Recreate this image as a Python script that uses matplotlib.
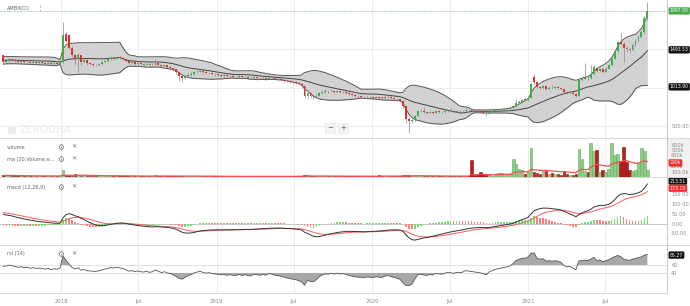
import numpy as np
import pandas as pd
import matplotlib
matplotlib.use("Agg")
import matplotlib.pyplot as plt
import matplotlib.dates as mdates
from matplotlib.patches import Rectangle
from matplotlib.lines import Line2D

# AMBIKCO weekly candles, Aug 2017 - Oct 2021
first_week = "2017-08-18"

# closes before the visible window (only used to warm up the indicators)
hist_closes = [1010, 1030, 1020, 1050, 1080, 1100, 1090, 1120, 1150, 1180,
               1170, 1210, 1240, 1260, 1300, 1290, 1320, 1350, 1340, 1370,
               1360, 1380, 1350, 1360, 1340, 1370, 1330, 1350, 1360, 1320,
               1340, 1380, 1350, 1400, 1420]

opens = [1420, 1340, 1350, 1370, 1360, 1345, 1335, 1345, 1330, 1340,
         1325, 1335, 1320, 1330, 1325, 1315, 1325, 1310, 1320, 1315,
         1330, 1700, 1690, 1520, 1430, 1380, 1420, 1340, 1360, 1320,
         1310, 1300, 1295, 1310, 1330, 1350, 1370, 1385, 1380, 1395,
         1385, 1370, 1350, 1320, 1330, 1310, 1320, 1305, 1300, 1310,
         1290, 1300, 1320, 1300, 1280, 1290, 1270, 1260, 1240, 1200,
         1150, 1130, 1150, 1170, 1180, 1200, 1210, 1220, 1200, 1190,
         1195, 1180, 1175, 1170, 1160, 1165, 1150, 1155, 1145, 1140,
         1150, 1135, 1140, 1130, 1125, 1135, 1130, 1125, 1130, 1120,
         1130, 1125, 1115, 1110, 1105, 1095, 1085, 1080, 1070, 1065,
         1050, 1030, 900, 940, 890, 880, 900, 930, 950, 960,
         955, 965, 950, 960, 945, 950, 935, 920, 905, 895,
         890, 885, 880, 885, 880, 875, 880, 875, 870, 878,
         880, 870, 860, 850, 835, 760, 600, 570, 585, 640,
         700, 705, 690, 680, 690, 680, 700, 690, 685, 695,
         705, 700, 690, 700, 695, 700, 715, 710, 705, 700,
         695, 690, 680, 670, 690, 700, 710, 715, 720, 725,
         730, 740, 760, 800, 820, 860, 840, 870, 1140, 1070,
         1010, 1000, 1020, 990, 1000, 995, 1005, 1000, 990, 950,
         935, 940, 920, 895, 1100, 1120, 1130, 1125, 1180, 1260,
         1220, 1240, 1210, 1250, 1290, 1380, 1480, 1590, 1570, 1520,
         1500, 1490, 1560, 1610, 1660, 1720, 1900]

highs = [1430, 1365, 1385, 1380, 1370, 1355, 1360, 1355, 1355, 1350,
         1350, 1345, 1345, 1340, 1335, 1345, 1335, 1335, 1330, 1345,
         1850, 1730, 1700, 1540, 1440, 1450, 1430, 1390, 1370, 1335,
         1325, 1315, 1325, 1345, 1365, 1390, 1410, 1400, 1415, 1410,
         1395, 1380, 1360, 1350, 1340, 1340, 1330, 1320, 1330, 1320,
         1320, 1380, 1330, 1310, 1310, 1300, 1285, 1270, 1250, 1210,
         1165, 1170, 1190, 1200, 1220, 1260, 1240, 1230, 1215, 1210,
         1205, 1195, 1190, 1180, 1180, 1175, 1170, 1165, 1160, 1165,
         1160, 1155, 1150, 1145, 1150, 1145, 1145, 1150, 1140, 1145,
         1140, 1135, 1130, 1125, 1115, 1105, 1100, 1090, 1085, 1075,
         1060, 1040, 955, 950, 905, 915, 945, 965, 990, 975,
         985, 975, 975, 970, 965, 960, 945, 930, 915, 905,
         900, 895, 900, 895, 890, 895, 890, 885, 890, 910,
         890, 880, 870, 860, 840, 770, 620, 600, 655, 720,
         725, 750, 700, 705, 700, 715, 710, 700, 710, 720,
         740, 710, 715, 710, 715, 760, 730, 725, 720, 715,
         710, 700, 690, 705, 715, 725, 730, 740, 745, 750,
         760, 780, 850, 840, 860, 870, 890, 1060, 1180, 1080,
         1025, 1040, 1030, 1020, 1040, 1025, 1020, 1010, 1000, 960,
         955, 950, 930, 1110, 1150, 1320, 1160, 1300, 1290, 1275,
         1260, 1250, 1265, 1310, 1400, 1500, 1610, 1720, 1590, 1540,
         1520, 1580, 1630, 1690, 1750, 1930, 2110]

lows = [1310, 1330, 1340, 1345, 1335, 1320, 1325, 1320, 1320, 1315,
        1315, 1305, 1310, 1310, 1300, 1305, 1295, 1300, 1300, 1305,
        1320, 1590, 1500, 1400, 1300, 1210, 1300, 1320, 1300, 1290,
        1285, 1280, 1285, 1300, 1320, 1340, 1360, 1365, 1370, 1370,
        1355, 1335, 1305, 1310, 1295, 1300, 1290, 1285, 1290, 1275,
        1280, 1290, 1285, 1265, 1270, 1255, 1245, 1225, 1185, 1090,
        1070, 1115, 1140, 1160, 1170, 1190, 1200, 1185, 1175, 1175,
        1165, 1160, 1155, 1145, 1145, 1135, 1140, 1130, 1125, 1130,
        1120, 1125, 1115, 1110, 1115, 1115, 1110, 1110, 1105, 1110,
        1110, 1100, 1095, 1090, 1080, 1070, 1065, 1055, 1050, 1035,
        1015, 870, 860, 875, 860, 865, 890, 920, 940, 940,
        945, 935, 940, 930, 935, 920, 905, 890, 880, 875,
        870, 865, 870, 865, 860, 865, 860, 855, 860, 865,
        855, 845, 835, 815, 740, 540, 415, 550, 575, 630,
        690, 675, 665, 670, 665, 670, 675, 670, 675, 685,
        685, 675, 680, 680, 685, 690, 695, 690, 685, 680,
        675, 665, 640, 660, 680, 690, 700, 705, 710, 715,
        720, 730, 750, 790, 810, 825, 830, 865, 1040, 995,
        985, 990, 975, 980, 980, 985, 985, 975, 935, 920,
        920, 905, 880, 880, 1090, 1110, 1105, 1115, 1170, 1200,
        1205, 1195, 1200, 1240, 1280, 1370, 1470, 1550, 1340, 1470,
        1460, 1475, 1540, 1590, 1640, 1700, 1880]

closes = [1340, 1350, 1370, 1360, 1345, 1335, 1345, 1330, 1340, 1325,
          1335, 1320, 1330, 1325, 1315, 1325, 1310, 1320, 1315, 1330,
          1680, 1610, 1520, 1430, 1380, 1420, 1340, 1360, 1320, 1310,
          1300, 1295, 1310, 1330, 1350, 1370, 1385, 1380, 1395, 1385,
          1370, 1350, 1320, 1330, 1310, 1320, 1305, 1300, 1310, 1290,
          1300, 1320, 1300, 1280, 1290, 1270, 1260, 1240, 1200, 1150,
          1130, 1150, 1170, 1180, 1200, 1210, 1220, 1200, 1190, 1195,
          1180, 1175, 1170, 1160, 1165, 1150, 1155, 1145, 1140, 1150,
          1135, 1140, 1130, 1125, 1135, 1130, 1125, 1130, 1120, 1130,
          1125, 1115, 1110, 1105, 1095, 1085, 1080, 1070, 1065, 1050,
          1030, 900, 940, 890, 880, 900, 930, 950, 960, 955,
          965, 950, 960, 945, 950, 935, 920, 905, 895, 890,
          885, 880, 885, 880, 875, 880, 875, 870, 878, 880,
          870, 860, 850, 835, 760, 600, 570, 585, 640, 700,
          705, 690, 680, 690, 680, 700, 690, 685, 695, 705,
          700, 690, 700, 695, 700, 715, 710, 705, 700, 695,
          690, 680, 670, 690, 700, 710, 715, 720, 725, 730,
          740, 760, 800, 820, 840, 840, 870, 1050, 1070, 1010,
          1000, 1020, 990, 1000, 995, 1005, 1000, 990, 950, 935,
          940, 920, 895, 1100, 1120, 1130, 1125, 1180, 1270, 1220,
          1240, 1210, 1250, 1290, 1380, 1480, 1590, 1570, 1520, 1500,
          1490, 1560, 1610, 1660, 1720, 1900, 1997]

volumes_k = [30, 20, 25, 18, 15, 20, 15, 18, 12, 15,
             20, 15, 12, 18, 15, 12, 15, 20, 15, 25,
             130, 45, 35, 25, 60, 40, 25, 20, 18, 15,
             15, 12, 15, 20, 18, 20, 25, 15, 20, 18,
             15, 15, 18, 12, 15, 12, 10, 12, 15, 12,
             15, 30, 20, 15, 12, 15, 12, 15, 20, 25,
             20, 15, 12, 15, 18, 20, 15, 12, 10, 12,
             10, 12, 10, 10, 12, 10, 8, 10, 12, 10,
             10, 8, 10, 12, 10, 8, 10, 12, 10, 10,
             8, 10, 12, 10, 15, 12, 10, 12, 15, 20,
             25, 40, 30, 25, 20, 18, 15, 20, 25, 15,
             12, 15, 12, 10, 12, 15, 12, 10, 12, 10,
             10, 12, 10, 15, 12, 18, 40, 15, 12, 15,
             12, 15, 20, 25, 35, 40, 30, 25, 30, 35,
             20, 15, 18, 15, 12, 15, 12, 10, 12, 15,
             15, 12, 10, 12, 15, 25, 20, 310, 40, 30,
             100, 35, 40, 30, 25, 60, 80, 70, 60, 40,
             50, 330, 240, 150, 130, 60, 90, 540, 90, 70,
             60, 120, 120, 60, 80, 60, 50, 40, 110, 50,
             40, 40, 50, 520, 330, 120, 90, 630, 480, 500,
             100, 130, 90, 150, 630, 400, 430, 300, 560, 280,
             130, 120, 130, 250, 540, 480, 130]

# values printed in the right-hand boxes
last_price = 1997.00
bb_mid_last = 1493.53
bb_low_last = 1013.90
vol_ma_label = "290k"
macd_last = 213.51
signal_last = 173.15
rsi_last = 85.27

tick_dates = ["2018-01-01", "2018-07-01", "2019-01-01", "2019-07-01",
              "2020-01-01", "2020-07-01", "2021-01-01", "2021-07-01"]
tick_labels = ["2018", "Jul", "2019", "Jul", "2020", "Jul", "2021", "Jul"]

GREEN = "#3fae49"
RED = "#e0302d"
GRID = "#ececec"
LINE = "#d8d8d8"
TXT = "#8a8a8a"

# ---- indicators ----
o = np.array(opens, float)
h = np.array(highs, float)
l = np.array(lows, float)
c = np.array(closes, float)
v = np.array(volumes_k, float) * 1000
nh = len(hist_closes)
full = pd.Series(hist_closes + closes, dtype=float)

mid = full.rolling(20).mean()
sd = full.rolling(20).std(ddof=0)
bb_mid = mid.iloc[nh:].values
bb_up = (mid + 2 * sd).iloc[nh:].values
bb_lo = (mid - 2 * sd).iloc[nh:].values

ema12 = full.ewm(span=12, adjust=False).mean()
ema26 = full.ewm(span=26, adjust=False).mean()
macd_full = ema12 - ema26
sig_full = macd_full.ewm(span=9, adjust=False).mean()
macd = macd_full.iloc[nh:].values
sig = sig_full.iloc[nh:].values
hist = macd_full - sig_full
hist_col = np.where(hist.diff().iloc[nh:].values >= 0, "#6fe06f", "#ff7f7f")
hist = hist.iloc[nh:].values

d = full.diff()
gain = d.clip(lower=0).ewm(alpha=1 / 14, adjust=False).mean()
loss = (-d.clip(upper=0)).ewm(alpha=1 / 14, adjust=False).mean()
rsi = (100 - 100 / (1 + gain / loss)).iloc[nh:].values

vol_ma = pd.Series(v).ewm(span=20, adjust=False).mean().values

dates = pd.date_range(first_week, periods=len(closes), freq="W-FRI")
x = mdates.date2num(dates)
xmin = mdates.date2num(pd.Timestamp("2017-08-10"))
xmax = mdates.date2num(pd.Timestamp("2021-11-23"))
xt = mdates.date2num(pd.to_datetime(tick_dates))
up = c >= o

# ---- figure ----
W, H = 690, 306
fig = plt.figure(figsize=(W / 100, H / 100), dpi=100)


def fax(top, bottom):
    return fig.add_axes([0, 1 - bottom / H, 667 / W, (bottom - top) / H])


ax_p = fax(0, 138)
ax_v = fax(138, 177)
ax_m = fax(177, 245)
ax_r = fax(245, 293)

for ax in (ax_p, ax_v, ax_m, ax_r):
    ax.set_xlim(xmin, xmax)
    for s in ax.spines.values():
        s.set_visible(False)
    ax.set_xticks(xt)
    ax.tick_params(axis="x", length=0, labelbottom=False)
    ax.xaxis.grid(True, color=GRID, lw=0.7)
    ax.yaxis.tick_right()
    ax.tick_params(axis="y", length=0, labelsize=3.6, colors=TXT, pad=3)
    ax.set_axisbelow(True)

# price panel
ax_p.set_ylim(351, 2138)
ax_p.set_yticks([500, 1000, 1500, 2000])
ax_p.set_yticklabels(["500.00", "", "", ""])
ax_p.yaxis.grid(True, color=GRID, lw=0.7)
ax_p.fill_between(x, bb_lo, bb_up, color="#d2d2d2", lw=0, zorder=1)
ax_p.plot(x, bb_up, color="#555555", lw=0.7, zorder=2)
ax_p.plot(x, bb_lo, color="#555555", lw=0.7, zorder=2)
ax_p.plot(x, bb_mid, color="#444444", lw=0.7, zorder=2)
ax_p.axhline(last_price, color="#9fd49f", lw=0.6, ls=(0, (2, 2)), zorder=1)
ax_p.vlines(x, l, h, color="#8a8a8a", lw=0.5, zorder=3)
body = np.maximum(np.abs(c - o), 6)
ax_p.bar(x, body, bottom=np.minimum(o, c), width=4.5,
         color=np.where(up, GREEN, RED), lw=0, zorder=4)

# volume panel
ax_v.set_ylim(0, 720000)
ax_v.set_yticks([100000, 200000, 400000, 500000, 600000])
ax_v.set_yticklabels(["100.0k", "200k", "400k", "500k", "600k"])
ax_v.bar(x, v, width=6, color=np.where(up, "#8fcc86", "#b81e1e"),
         edgecolor=np.where(up, "#62a85a", "#8c1010"), lw=0.4, zorder=2)
ax_v.plot(x, vol_ma, color="#f05050", lw=0.9, zorder=3)

# macd panel
ax_m.set_ylim(-109, 238)
ax_m.set_yticks([-50, 0, 50, 100, 150])
ax_m.set_yticklabels(["-50.00", "0.00", "50.00", "100.00", "150.00"])
ax_m.axhline(0, color="#c8c8c8", lw=0.7, zorder=1)
ax_m.bar(x, hist, width=4, color=hist_col, lw=0, zorder=2)
ax_m.plot(x, sig, color="#ff5a5a", lw=0.7, zorder=3)
ax_m.plot(x, macd, color="#333333", lw=0.7, zorder=4)

# rsi panel
ax_r.set_ylim(-11, 111)
ax_r.set_yticks([40, 60])
ax_r.set_yticklabels(["40", "60"])
ax_r.axhline(60, color="#dcdcdc", lw=0.6)
ax_r.axhline(40, color="#dcdcdc", lw=0.6)
ax_r.fill_between(x, 60, rsi, where=rsi > 60, interpolate=True,
                  color="#a8a8a8", lw=0, zorder=2)
ax_r.fill_between(x, 40, rsi, where=rsi < 40, interpolate=True,
                  color="#a8a8a8", lw=0, zorder=2)
ax_r.plot(x, rsi, color="#555555", lw=0.6, zorder=3)
ax_r.tick_params(axis="x", labelbottom=True, labelsize=3.8, colors=TXT, pad=4)
ax_r.set_xticklabels(tick_labels)

# separators and right axis line
fig.add_artist(Rectangle((668 / W, 1 - 177 / H), 22 / W, 39 / H,
                         transform=fig.transFigure, color="#f0f0f0", lw=0, zorder=0))
for yy in (138, 177, 245, 293):
    fig.add_artist(Line2D([0, (690 if yy < 293 else 667) / W], [1 - yy / H] * 2,
                          color=LINE, lw=0.7))
fig.add_artist(Line2D([667 / W] * 2, [1 - 293 / H, 1], color="#c8c8c8", lw=0.7))


def box(ax, y, text, fc, dy=0):
    ax.annotate(text, xy=(1.0, y), xycoords=("axes fraction", "data"),
                xytext=(2.0, dy), textcoords="offset points", ha="left",
                va="center", fontsize=3.3, color="white", annotation_clip=False,
                bbox=dict(boxstyle="round,pad=0.2", fc=fc, ec=fc, lw=0.3))


box(ax_p, last_price, f"{last_price:.2f}", "#49a84a")
box(ax_p, bb_mid_last, f"{bb_mid_last:.2f}", "#111111")
box(ax_p, bb_low_last, f"{bb_low_last:.2f}", "#111111")
box(ax_v, 260000, vol_ma_label, "#f02c2c")
box(ax_m, macd_last, f"{macd_last:.2f}", "#111111", dy=0.5)
box(ax_m, signal_last, f"{signal_last:.2f}", "#f02c2c", dy=1.0)
box(ax_r, rsi_last, f"{rsi_last:.2f}", "#111111")


# panel titles and icons
def label(px, py, text, size=3.6, color="#666666"):
    fig.text(px / W, 1 - py / H, text, fontsize=size, color=color,
             ha="left", va="center")


label(7, 8, "AMBIKCO")
label(37, 7, "\u22ee", 5, "#777777")
for py, name in [(147, "volume"), (159, "ma (20,Volume,e..."),
                 (187, "macd (12,26,9)"), (254, "rsi (14)")]:
    label(7, py, name)
    label(57, py, "\u2699", 5.5, "#777777")
    label(71, py, "\u2715", 4.5, "#777777")

# watermark and zoom buttons
fig.add_artist(Rectangle((8 / W, 1 - 134 / H), 8 / W, 8 / H,
                         transform=fig.transFigure, color="#ececec", lw=0))
label(19, 130, "ZERODHA", 7.5, "#ececec")
for bx, s in [(325, "\u2212"), (338, "+")]:
    fig.text((bx + 5) / W, 1 - 128 / H, s, fontsize=5, color="#555555",
             ha="center", va="center",
             bbox=dict(boxstyle="square,pad=0.3", fc="#f4f4f4", ec="#e2e2e2", lw=0.4))

fig.savefig("out.png", dpi=100)
